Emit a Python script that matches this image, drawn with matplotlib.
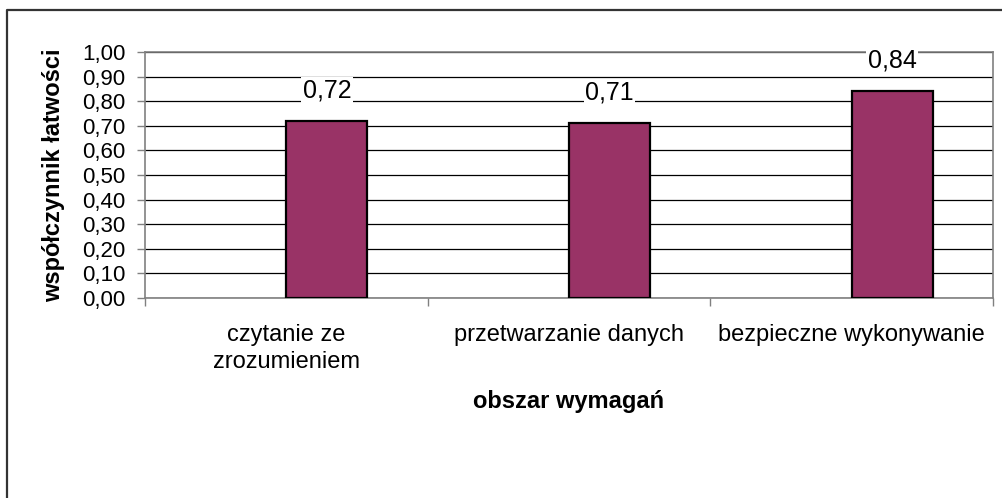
import matplotlib.pyplot as plt
import numpy as np

# data
categories = ["czytanie ze\nzrozumieniem", "przetwarzanie danych", "bezpieczne wykonywanie"]
values = [0.72, 0.71, 0.84]
value_labels = ["0,72", "0,71", "0,84"]
yticks = np.arange(0, 1.01, 0.1)
ytick_labels = ["0,00", "0,10", "0,20", "0,30", "0,40", "0,50",
                "0,60", "0,70", "0,80", "0,90", "1,00"]

plt.rcParams['font.family'] = ['Liberation Sans', 'DejaVu Sans']

fig = plt.figure(figsize=(10.03, 4.98), dpi=100)
ax = fig.add_axes([145 / 1003, 1 - 298 / 498, (993 - 145) / 1003, (298 - 52) / 498])

# outer frame: only left and top edges fall inside the picture
fig.add_artist(plt.Line2D([7.5 / 1003, 7.5 / 1003, 1.0], [0.0, 1 - 10.5 / 498, 1 - 10.5 / 498],
                          transform=fig.transFigure, color='#333333', linewidth=1.6))

x = np.arange(len(values))
ax.bar(x, values, width=0.287, align='edge', color='#993366',
       edgecolor='black', linewidth=1.6, zorder=3)

for xi, v, lab in zip(x, values, value_labels):
    ax.annotate(lab, (xi + 0.1435, v), xytext=(0, 22), textcoords='offset points',
                ha='center', va='center', fontsize=18,
                bbox=dict(facecolor='white', edgecolor='none', pad=1.0), zorder=4)

ax.set_xlim(-0.5, 2.5)
ax.set_ylim(0, 1.0)
ax.set_yticks(yticks)
ax.set_yticklabels(ytick_labels, fontsize=16)
ax.yaxis.grid(True, color='black', linewidth=0.9, zorder=0)
ax.set_axisbelow(True)

# category labels centred, ticks on the boundaries
ax.set_xticks(x)
ax.set_xticklabels(categories, fontsize=17, linespacing=1.3)
ax.tick_params(axis='x', length=0, pad=19)
ax.set_xticks(np.arange(-0.5, 2.6, 1), minor=True)
ax.tick_params(axis='x', which='minor', length=6, color='#808080', width=1)
ax.tick_params(axis='y', length=6, color='#808080', width=1, pad=8)

for s in ax.spines.values():
    s.set_color('#808080')
    s.set_linewidth(1.2)

ax.set_ylabel("współczynnik łatwości", fontsize=17, fontweight='bold', labelpad=12)
ax.set_xlabel("obszar wymagań", fontsize=17, fontweight='bold', labelpad=12)

plt.savefig('out.png', dpi=100)
